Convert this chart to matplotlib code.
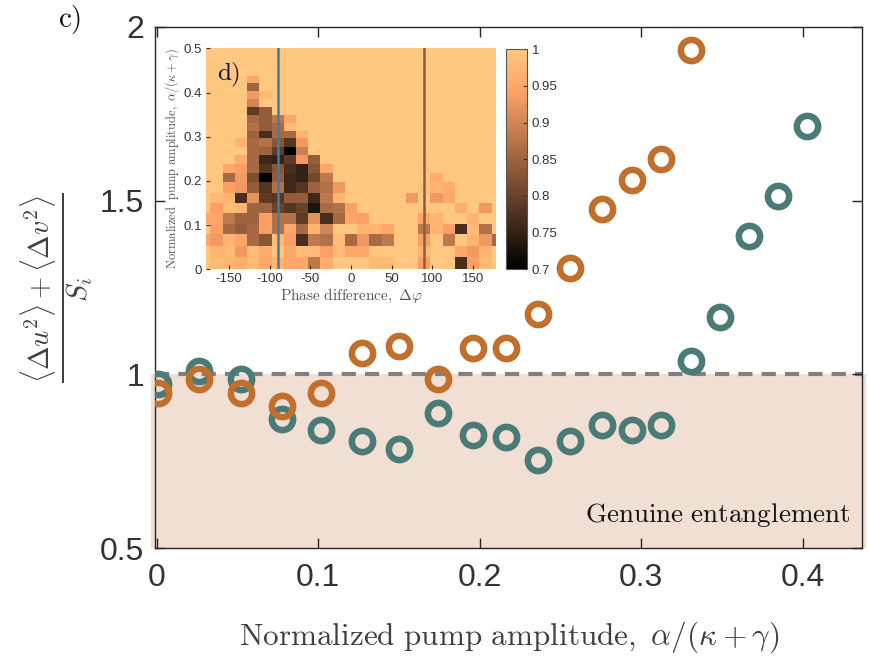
import numpy as np
import matplotlib
matplotlib.use("Agg")
import matplotlib.pyplot as plt

plt.rcParams['mathtext.fontset'] = 'cm'
plt.rcParams['font.family'] = ['Liberation Sans', 'DejaVu Sans']

# MAIN PANEL DATA (c)

amp_teal = [0.001, 0.026, 0.052, 0.0775, 0.102, 0.127, 0.150, 0.1745, 0.196, 0.216,
            0.236, 0.2557, 0.2757, 0.294, 0.312, 0.331, 0.349, 0.367, 0.385, 0.4026]
ratio_teal = [0.971, 1.010, 0.988, 0.872, 0.841, 0.809, 0.786, 0.889, 0.825, 0.820,
              0.753, 0.809, 0.853, 0.839, 0.855, 1.038, 1.166, 1.399, 1.512, 1.714]

amp_orange = [0.001, 0.026, 0.052, 0.0775, 0.102, 0.127, 0.150, 0.1745, 0.196, 0.216,
              0.236, 0.2557, 0.2757, 0.294, 0.312, 0.331]
ratio_orange = [0.947, 0.986, 0.945, 0.908, 0.947, 1.062, 1.082, 0.986, 1.075, 1.075,
                1.174, 1.305, 1.477, 1.559, 1.621, 1.934]

x_ticks = [0, 0.1, 0.2, 0.3, 0.4]
x_ticklabels = ['0', '0.1', '0.2', '0.3', '0.4']
y_ticks = [0.5, 1, 1.5, 2]
y_ticklabels = ['0.5', '1', '1.5', '2']

# INSET DATA (d)

phase = [-180, -165, -150, -135, -120, -105, -90, -75, -60, -45, -30, -15, 0,
         15, 30, 45, 60, 75, 90, 105, 120, 135, 150, 165, 180]
amp_edges = [0, 0.027, 0.053, 0.079, 0.103, 0.127, 0.150, 0.173, 0.197, 0.217, 0.238,
             0.258, 0.277, 0.296, 0.314, 0.332, 0.350, 0.368, 0.386, 0.404, 0.421, 0.438]

visibility = [
    [1, .98, .97, .96, .98, .95, .97, .95, .95, .88, .96, 1, 1, 1, .98, .98, 1, 1, .94, 1, 1, .77, .94, .98, 1],
    [1, .97, .98, .93, .98, .96, 1, .95, .98, .98, .94, .98, .95, .95, 1, 1, 1, 1, .97, 1, 1, .95, .93, .97, 1],
    [.95, .93, .97, .95, .86, .83, .98, .94, .77, .88, .87, .98, .86, .93, .86, .88, 1, 1, .94, 1, .88, 1, .97, .93, .86],
    [1, .94, .86, .84, .86, .94, .87, .95, .86, .97, .90, 1, 1, .97, .97, .95, 1, 1, .88, .97, .94, .77, .98, .87, 1],
    [.95, .95, .88, .85, .85, .94, .87, .87, .79, .92, .77, .86, .95, .94, 1, 1, 1, 1, .95, .97, 1, 1, .97, 1, 1],
    [1, .94, .98, .97, .85, .85, .80, .78, .80, .73, .86, .87, .94, 1, 1, 1, 1, 1, 1, 1, 1, .96, 1, .93, 1],
    [1, .98, .97, .77, .92, .79, .78, .84, .84, .76, .88, .97, 1, 1, 1, 1, 1, .93, 1, .93, .95, 1, 1, 1, 1],
    [1, 1, .94, .93, .84, .78, .87, .76, .78, .85, .87, .93, 1, 1, 1, 1, 1, 1, .99, .97, .96, 1, 1, 1, 1],
    [1, 1, .86, .93, .82, .70, .84, .76, .75, .81, .88, 1, 1, 1, 1, 1, 1, 1, 1, .96, 1, 1, 1, 1, 1],
    [1, 1, .95, .94, .86, .78, .83, .77, .75, .83, .95, 1, 1, 1, 1, 1, 1, 1, 1, 1, 1, 1, 1, 1, 1],
    [1, 1, 1, .96, .86, .76, .75, .79, .93, .84, 1, 1, 1, 1, 1, 1, 1, 1, 1, 1, 1, 1, 1, 1, 1],
    [1, 1, 1, 1, .86, .85, .79, .70, .89, 1, 1, 1, 1, 1, 1, 1, 1, 1, 1, 1, 1, 1, 1, 1, 1],
    [1, 1, 1, .97, .86, .87, .83, .78, .93, 1, 1, 1, 1, 1, 1, 1, 1, 1, 1, 1, 1, 1, 1, 1, 1],
    [1, 1, 1, 1, .85, .77, .86, .86, .97, 1, 1, 1, 1, 1, 1, 1, 1, 1, 1, 1, 1, 1, 1, 1, 1],
    [1, 1, 1, 1, .87, .84, .86, .98, 1, 1, 1, 1, 1, 1, 1, 1, 1, 1, 1, 1, 1, 1, 1, 1, 1],
    [1, 1, 1, 1, .86, .84, .88, .95, 1, 1, 1, 1, 1, 1, 1, 1, 1, 1, 1, 1, 1, 1, 1, 1, 1],
    [1, 1, 1, 1, .79, .84, 1, 1, 1, 1, 1, 1, 1, 1, 1, 1, 1, 1, 1, 1, 1, 1, 1, 1, 1],
    [1, 1, 1, 1, .90, 1, 1, 1, 1, 1, 1, 1, 1, 1, 1, 1, 1, 1, 1, 1, 1, 1, 1, 1, 1],
    [1, 1, 1, 1, .93, .98, 1, 1, 1, 1, 1, 1, 1, 1, 1, 1, 1, 1, 1, 1, 1, 1, 1, 1, 1],
    [1, 1, 1, 1, .85, 1, 1, 1, 1, 1, 1, 1, 1, 1, 1, 1, 1, 1, 1, 1, 1, 1, 1, 1, 1],
    [1, 1, 1, 1, .95, 1, 1, 1, 1, 1, 1, 1, 1, 1, 1, 1, 1, 1, 1, 1, 1, 1, 1, 1, 1],
]
phase_lines = [-90, 90]
cbar_ticks = [0.7, 0.75, 0.8, 0.85, 0.9, 0.95, 1]
cbar_ticklabels = ['0.7', '0.75', '0.8', '0.85', '0.9', '0.95', '1']

TEAL = '#4b7b77'
ORANGE = '#c0702c'
SHADE = '#f2dfd3'
AXCOL = '#262626'

fig = plt.figure(figsize=(8.7, 6.61), dpi=100)

# MAIN AXES

ax = fig.add_axes([155/870, 1 - 548/661, 707/870, 521/661])
ax.set_xlim(-0.001, 0.4367)
ax.set_ylim(0.5, 2)

span = ax.axhspan(0.5, 1.0, xmin=-0.005, xmax=1.005, color=SHADE, lw=0, zorder=0)
span.set_clip_on(False)
ax.axhline(1.0, color='#808080', lw=3, dashes=(3.4, 2.2), zorder=1)

ax.plot(amp_teal, ratio_teal, 'o', ms=15.3, mfc='none', mec=TEAL, mew=4.7, zorder=3)
ax.plot(amp_orange, ratio_orange, 'o', ms=15.3, mfc='none', mec=ORANGE, mew=4.7, zorder=4)

ax.set_xticks(x_ticks)
ax.set_xticklabels(x_ticklabels)
ax.set_yticks(y_ticks)
ax.set_yticklabels(y_ticklabels)
ax.tick_params(direction='in', length=7, width=1, top=True, right=True,
               labelsize=23, colors=AXCOL, labelcolor='#333333')
ax.tick_params(axis='x', pad=11)
ax.tick_params(axis='y', pad=8)
for s in ax.spines.values():
    s.set_color(AXCOL)
    s.set_linewidth(1)

ax.text(0.4294, 0.596, r'$\mathrm{Genuine\ entanglement}$', ha='right', va='center',
        fontsize=19.5, color='#111111')

fig.text(509/870, 1 - 637/661, r'$\mathrm{Normalized\ pump\ amplitude,}\ \alpha/(\kappa+\gamma)$',
         ha='center', va='center', fontsize=22.5, color='#404040')
fig.text(58/870, 1 - 288/661,
         r'$\frac{\langle\Delta u^2\rangle + \langle\Delta v^2\rangle}{S_i}$',
         ha='center', va='center', rotation=90, fontsize=29, color='#404040')
fig.text(70/870, 1 - 20/661, r'$\mathrm{c)}$', ha='center', va='center', fontsize=21, color='#111111')

# INSET HEATMAP

ax_in = fig.add_axes([206/870, 1 - 269.3/661, 290/870, 221/661])
phase_arr = np.array(phase, dtype=float)
phase_edges = np.concatenate([phase_arr - 7.5, [phase_arr[-1] + 7.5]])
mesh = ax_in.pcolormesh(phase_edges, amp_edges, np.array(visibility),
                        cmap='copper', vmin=0.7, vmax=1.0, shading='flat')
ax_in.set_facecolor(plt.get_cmap('copper')(1.0))
for ph, col in zip(phase_lines, ['#3e80a2', '#8b5e3c']):
    ax_in.axvline(ph, color=col, lw=1.8)
ax_in.set_xlim(-178, 178)
ax_in.set_ylim(0, 0.5)
ax_in.set_xticks([-150, -100, -50, 0, 50, 100, 150])
ax_in.set_xticklabels(['-150', '-100', '-50', '0', '50', '100', '150'])
ax_in.set_yticks([0, 0.1, 0.2, 0.3, 0.4, 0.5])
ax_in.set_yticklabels(['0', '0.1', '0.2', '0.3', '0.4', '0.5'])
ax_in.tick_params(direction='in', length=3, labelsize=9.5, colors='#333333', pad=3)
for s in ax_in.spines.values():
    s.set_visible(False)
ax_in.set_xlabel(r'$\mathrm{Phase\ difference,}\ \Delta\varphi$', fontsize=11, color='#555555', labelpad=1)
ax_in.set_ylabel(r'$\mathrm{Normalized\ \ pump\ amplitude,}\ \alpha/(\kappa+\gamma)$', fontsize=9,
                 color='#555555', labelpad=2)
ax_in.text(-165, 0.44, r'$\mathrm{d)}$', fontsize=18, color='#111111', va='center')

cax = fig.add_axes([506/870, 1 - 269.3/661, 21/870, 220/661])
cb = fig.colorbar(mesh, cax=cax, ticks=cbar_ticks)
cb.ax.set_yticklabels(cbar_ticklabels)
cb.ax.tick_params(labelsize=9.5, colors='#333333', length=3, direction='in')
cb.outline.set_edgecolor('#555555')
cb.outline.set_linewidth(0.8)

fig.savefig('out.png', dpi=100)
